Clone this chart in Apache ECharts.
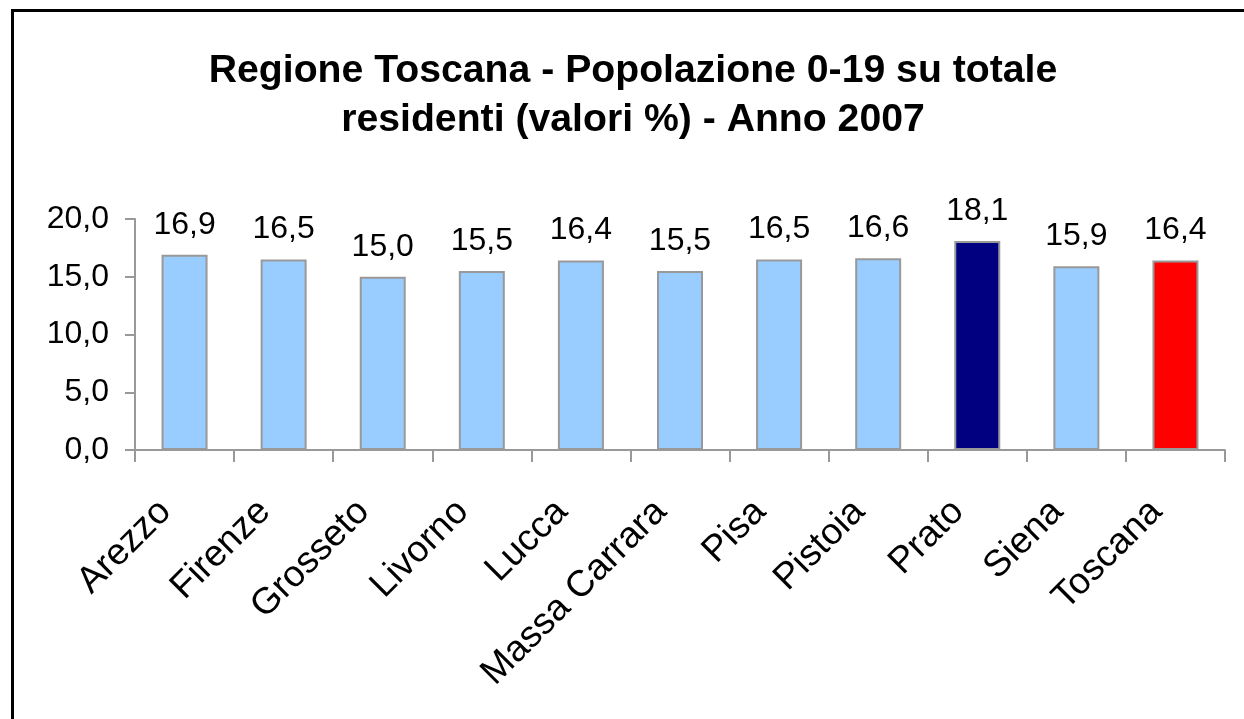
<!DOCTYPE html>
<html>
<head>
<meta charset="utf-8">
<script src="https://cdn.jsdelivr.net/npm/echarts@6/dist/echarts.min.js"></script>
<style>
html,body{margin:0;padding:0;background:#fff;}
#c{width:1244px;height:719px;}
</style>
</head>
<body>
<div id="c"></div>
<script>
const titleLines = ['Regione Toscana - Popolazione 0-19 su totale', 'residenti (valori %) - Anno 2007'];
const categories = ['Arezzo', 'Firenze', 'Grosseto', 'Livorno', 'Lucca', 'Massa Carrara', 'Pisa', 'Pistoia', 'Prato', 'Siena', 'Toscana'];
const values = [16.9, 16.5, 15.0, 15.5, 16.4, 15.5, 16.5, 16.6, 18.1, 15.9, 16.4];
const barColors = ['#99CCFF', '#99CCFF', '#99CCFF', '#99CCFF', '#99CCFF', '#99CCFF', '#99CCFF', '#99CCFF', '#000080', '#99CCFF', '#FF0000'];
const yTicks = [0, 5, 10, 15, 20];

const FONT = '"Liberation Sans", Arial, sans-serif';
const fmt = v => Number(v).toFixed(1).replace('.', ',');

const chart = echarts.init(document.getElementById('c'), null, {renderer: 'canvas'});
chart.setOption({
  animation: false,
  backgroundColor: '#ffffff',
  title: {
    text: titleLines.join('\n'),
    left: 633,
    textAlign: 'center',
    top: 47,
    padding: 0,
    textStyle: {fontFamily: FONT, fontSize: 39.2, fontWeight: 'bold', color: '#000', lineHeight: 49}
  },
  graphic: [{
    type: 'rect',
    shape: {x: 12.5, y: 10.5, width: 1400, height: 900},
    style: {fill: 'none', stroke: '#000', lineWidth: 3},
    silent: true
  }],
  grid: {left: 135, top: 219, width: 1090, height: 231, containLabel: false},
  xAxis: {
    type: 'category',
    data: categories,
    boundaryGap: true,
    axisLine: {lineStyle: {color: '#999999', width: 2}},
    axisTick: {show: true, length: 12, lineStyle: {color: '#999999', width: 2}},
    axisLabel: {
      interval: 0, rotate: 45, margin: 37, padding: [0, 27, 0, 0],
      fontFamily: FONT, fontSize: 37, color: '#000'
    },
    splitLine: {show: false}
  },
  yAxis: {
    type: 'value',
    min: yTicks[0], max: yTicks[yTicks.length - 1], interval: 5,
    axisLine: {show: true, lineStyle: {color: '#999999', width: 2}},
    axisTick: {show: true, length: 10, lineStyle: {color: '#999999', width: 2}},
    axisLabel: {margin: 26, fontFamily: FONT, fontSize: 32, color: '#000', formatter: fmt},
    splitLine: {show: false}
  },
  series: [{
    type: 'bar',
    data: values.map((v, i) => ({value: v, itemStyle: {color: barColors[i]}})),
    barWidth: 46,
    itemStyle: {borderColor: '#999999', borderWidth: 2},
    label: {
      show: true, position: 'top', distance: 14,
      fontFamily: FONT, fontSize: 32, color: '#000',
      formatter: p => fmt(p.value)
    }
  }]
});
</script>
</body>
</html>
